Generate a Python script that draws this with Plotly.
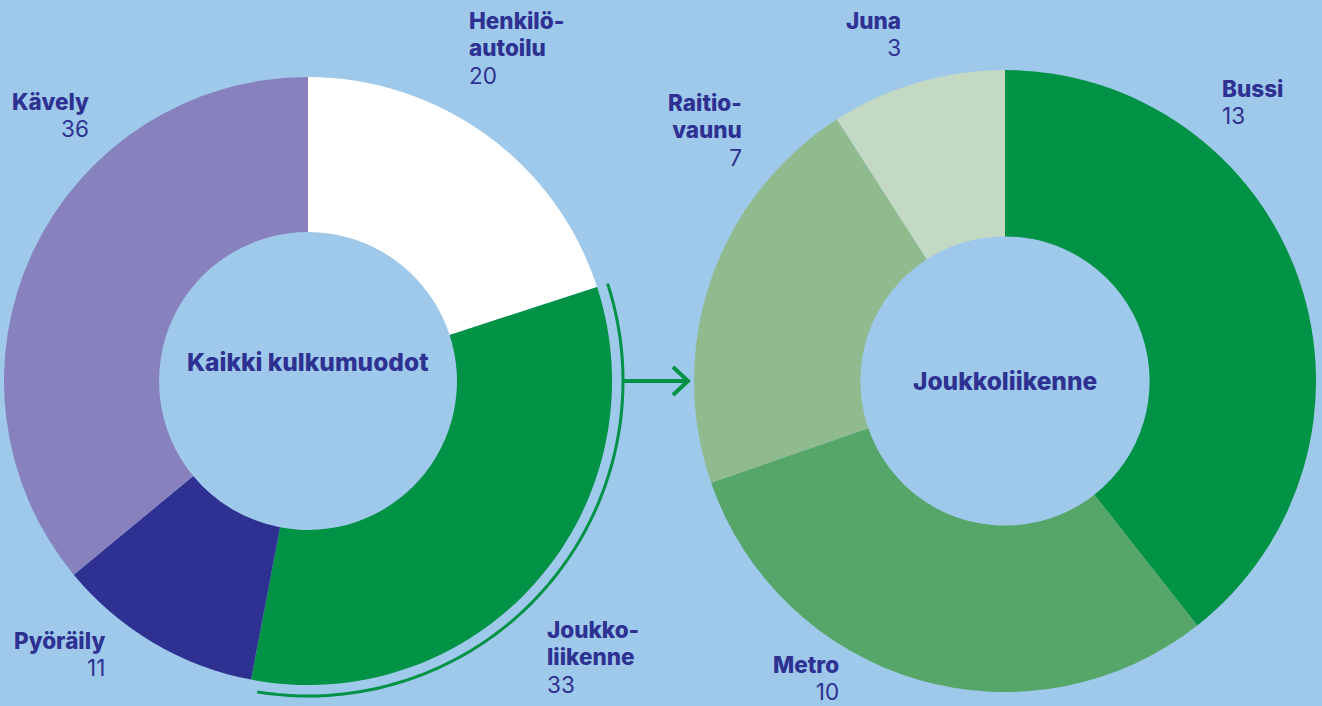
import numpy as np
import plotly.graph_objects as go

W, H = 1322, 706
BG = "#9fc9ea"
TEXT = "#2e3192"
FONT = "Inter"

# ---- data ----
modes = ["Henkilöautoilu", "Joukkoliikenne", "Pyöräily", "Kävely"]
mode_values = [20, 33, 11, 36]
mode_colors = ["#ffffff", "#009245", "#2e3192", "#8781bd"]
mode_label_lines = [["Henkilö-", "autoilu"], ["Joukko-", "liikenne"], ["Pyöräily"], ["Kävely"]]

transit = ["Bussi", "Metro", "Raitiovaunu", "Juna"]
transit_values = [13, 10, 7, 3]
transit_colors = ["#009245", "#56a669", "#8fbb8f", "#c3d9c3"]
transit_label_lines = [["Bussi"], ["Metro"], ["Raitio-", "vaunu"], ["Juna"]]

center_titles = ["Kaikki kulkumuodot", "Joukkoliikenne"]

# ---- layout (pixel geometry) ----
L_CX, L_CY, L_R, L_HOLE = 308, 381, 304, 0.49
R_CX, R_CY, R_R, R_HOLE = 1005, 381, 311, 0.465

# label anchor: (x, first baseline, align)
mode_label_pos = [(467, 29, "left"), (545, 638, "left"), (107, 648, "right"), (91, 109, "right")]
transit_label_pos = [(1220, 96, "left"), (841, 672, "right"), (744, 111, "right"), (903, 28, "right")]
BASE_FS = 21          # sets the line spacing (1.3 em)
TXT_FS = 22.5         # visible glyph size
TITLE_FS = 24.5


def domain(cx, cy, r):
    return dict(x=[(cx - r) / W, (cx + r) / W], y=[1 - (cy + r) / H, 1 - (cy - r) / H])


fig = go.Figure()
fig.add_trace(go.Pie(
    labels=modes, values=mode_values, hole=L_HOLE, sort=False, direction="clockwise",
    rotation=0, marker=dict(colors=mode_colors, line=dict(width=0)), textinfo="none",
    domain=domain(L_CX, L_CY, L_R), showlegend=False))
fig.add_trace(go.Pie(
    labels=transit, values=transit_values, hole=R_HOLE, sort=False, direction="clockwise",
    rotation=0, marker=dict(colors=transit_colors, line=dict(width=0)), textinfo="none",
    domain=domain(R_CX, R_CY, R_R), showlegend=False))

annotations = []


def span(t, bold, size=TXT_FS):
    w = 800 if bold else 400
    return f'<span style="font-size:{size}px;font-weight:{w}">{t}</span>'


def add_block(x, first_baseline, lines, align, size=TXT_FS, base=BASE_FS):
    n = len(lines)
    mid_baseline = first_baseline + (n - 1) * 1.3 * base / 2
    annotations.append(dict(
        x=x / W, y=1 - (mid_baseline - 0.36 * size) / H, xref="paper", yref="paper",
        text="<br>".join(lines), showarrow=False, align=align,
        xanchor=align, yanchor="middle",
        font=dict(family=FONT, size=base, color=TEXT)))


def add_labels(lines_list, values, positions):
    for lines, v, (x, b, align) in zip(lines_list, values, positions):
        block = [span(ln, True) for ln in lines] + [span(str(v), False)]
        add_block(x, b, block, align)


add_labels(mode_label_lines, mode_values, mode_label_pos)
add_labels(transit_label_lines, transit_values, transit_label_pos)
add_block(L_CX, 371, [span(center_titles[0], True, TITLE_FS)], "center", size=TITLE_FS, base=TITLE_FS)
add_block(R_CX, 390, [span(center_titles[1], True, TITLE_FS)], "center", size=TITLE_FS, base=TITLE_FS)

# ---- bracket arc around the Joukkoliikenne slice + arrow ----
tot = sum(mode_values)
a0 = sum(mode_values[:1]) / tot * 360
a1 = sum(mode_values[:2]) / tot * 360 - 1.5
arc_r = L_R + 11
angs = np.radians(np.linspace(a0, a1, 120))
px = L_CX + arc_r * np.sin(angs)
py = L_CY - arc_r * np.cos(angs)
path = "M " + " L ".join(f"{x / W:.5f},{1 - y / H:.5f}" for x, y in zip(px, py))
shapes = [dict(type="path", path=path, xref="paper", yref="paper",
               line=dict(color="#009245", width=3))]
ax0 = L_CX + arc_r
tip = R_CX - R_R - 6
shapes.append(dict(type="line", xref="paper", yref="paper",
                   x0=ax0 / W, x1=tip / W, y0=1 - L_CY / H, y1=1 - L_CY / H,
                   line=dict(color="#009245", width=4)))
chev = [(tip - 15, L_CY - 14), (tip, L_CY), (tip - 15, L_CY + 14)]
shapes.append(dict(type="path", xref="paper", yref="paper",
                   path="M " + " L ".join(f"{x / W:.5f},{1 - y / H:.5f}" for x, y in chev),
                   line=dict(color="#009245", width=4)))

fig.update_layout(
    width=W, height=H, margin=dict(l=0, r=0, t=0, b=0),
    paper_bgcolor=BG, plot_bgcolor=BG,
    annotations=annotations, shapes=shapes, showlegend=False)

fig.write_html("out.html", config={"displayModeBar": False},
               post_script="document.body.style.margin='0';document.body.style.overflow='hidden';")
